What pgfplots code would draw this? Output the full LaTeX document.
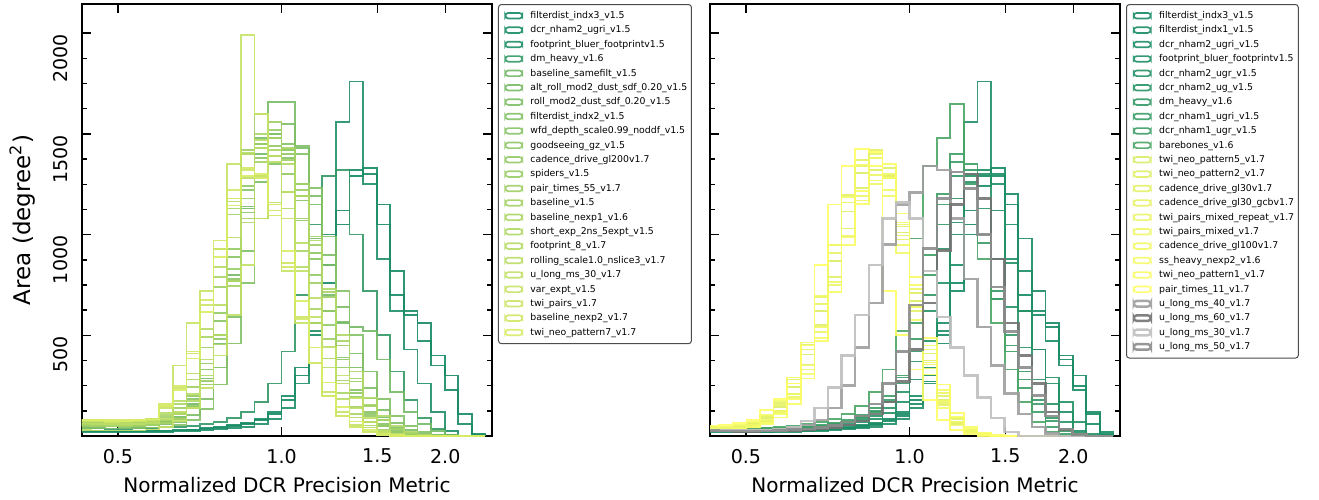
\documentclass[border=0pt]{standalone}
\usepackage{fontspec}
\setmainfont{DejaVu Sans}
\usepackage{pgfplots}
\usepackage{pgfplotstable}
\pgfplotsset{compat=1.18}

\definecolor{cL1}{rgb}{0.08,0.54,0.40}
\definecolor{cL2}{rgb}{0.10,0.55,0.40}
\definecolor{cL3}{rgb}{0.12,0.56,0.40}
\definecolor{cL4}{rgb}{0.20,0.60,0.40}
\definecolor{cL5}{rgb}{0.45,0.725,0.40}
\definecolor{cL6}{rgb}{0.472,0.736,0.40}
\definecolor{cL7}{rgb}{0.494,0.747,0.40}
\definecolor{cL8}{rgb}{0.516,0.758,0.40}
\definecolor{cL9}{rgb}{0.538,0.769,0.40}
\definecolor{cL10}{rgb}{0.56,0.78,0.40}
\definecolor{cL11}{rgb}{0.582,0.791,0.40}
\definecolor{cL12}{rgb}{0.604,0.802,0.40}
\definecolor{cL13}{rgb}{0.626,0.813,0.40}
\definecolor{cL14}{rgb}{0.648,0.824,0.40}
\definecolor{cL15}{rgb}{0.67,0.835,0.40}
\definecolor{cL16}{rgb}{0.692,0.846,0.40}
\definecolor{cL17}{rgb}{0.714,0.857,0.40}
\definecolor{cL18}{rgb}{0.736,0.868,0.40}
\definecolor{cL19}{rgb}{0.758,0.879,0.40}
\definecolor{cL20}{rgb}{0.78,0.89,0.40}
\definecolor{cL21}{rgb}{0.80,0.90,0.40}
\definecolor{cL22}{rgb}{0.82,0.91,0.40}
\definecolor{cL23}{rgb}{0.85,0.925,0.40}

\definecolor{cR1}{rgb}{0.08,0.54,0.40}
\definecolor{cR2}{rgb}{0.10,0.55,0.40}
\definecolor{cR3}{rgb}{0.11,0.555,0.40}
\definecolor{cR4}{rgb}{0.12,0.56,0.40}
\definecolor{cR5}{rgb}{0.14,0.57,0.40}
\definecolor{cR6}{rgb}{0.16,0.58,0.40}
\definecolor{cR7}{rgb}{0.20,0.60,0.40}
\definecolor{cR8}{rgb}{0.22,0.61,0.40}
\definecolor{cR9}{rgb}{0.24,0.62,0.40}
\definecolor{cR10}{rgb}{0.30,0.65,0.40}
\definecolor{cR11}{rgb}{0.86,0.93,0.40}
\definecolor{cR12}{rgb}{0.875,0.9375,0.40}
\definecolor{cR13}{rgb}{0.89,0.945,0.40}
\definecolor{cR14}{rgb}{0.905,0.9525,0.40}
\definecolor{cR15}{rgb}{0.92,0.96,0.40}
\definecolor{cR16}{rgb}{0.935,0.9675,0.40}
\definecolor{cR17}{rgb}{0.95,0.975,0.40}
\definecolor{cR18}{rgb}{0.965,0.9825,0.40}
\definecolor{cR19}{rgb}{0.98,0.99,0.40}
\definecolor{cR20}{rgb}{1.0,1.0,0.40}
\definecolor{cR21}{gray}{0.62}
\definecolor{cR22}{gray}{0.45}
\definecolor{cR23}{gray}{0.75}
\definecolor{cR24}{gray}{0.55}

% histogram bin heights, one row per run (bin left edges in log10 of the metric)
\pgfplotstableread{
name c0 c1 c2 c3 c4 c5 c6 c7 c8 c9 c10 c11 c12 c13 c14 c15 c16 c17 c18 c19 c20 c21 c22 c23 c24 c25 c26 c27 c28 c29 c30
x -0.375 -0.350 -0.325 -0.300 -0.275 -0.250 -0.225 -0.200 -0.175 -0.150 -0.125 -0.100 -0.075 -0.050 -0.025 0.000 0.025 0.050 0.075 0.100 0.125 0.150 0.175 0.200 0.225 0.250 0.275 0.300 0.325 0.350 0.375
a1 25 24 22 22 22 24 25 28 30 35 40 50 60 80 110 180 300 500 760 1050 1290 1330 1150 700 600 560 400 300 110 10 0
a2 28 26 25 24 25 26 28 30 33 38 45 55 65 85 120 200 340 560 850 1120 1320 1300 1050 820 620 470 350 230 60 5 0
a3 20 20 18 18 18 20 20 22 25 28 32 38 45 60 85 140 260 520 1000 1560 1760 1250 880 620 430 260 120 25 0 0 0
a4 40 38 36 36 38 40 42 45 50 58 70 90 120 170 260 420 700 1050 1290 1320 1000 720 500 320 180 90 35 8 0 0 0
a5 55 52 50 50 52 55 70 95 160 285 500 800 1130 1400 1500 1420 1250 980 700 560 540 520 380 220 120 60 25 8 0 0 0
a6 60 58 55 55 57 60 72 90 145 255 460 770 1140 1480 1660 1660 1430 1150 850 565 340 186 92 41 18 7 3 0 0 0 0
a7 50 48 47 48 50 52 58 70 105 185 340 590 920 1260 1500 1550 1440 1190 900 640 410 240 130 65 30 12 4 0 0 0 0
a8 40 38 37 38 40 42 44 55 80 135 255 460 760 1080 1350 1450 1400 1230 990 720 500 320 185 100 50 20 8 2 0 0 0
a9 65 62 60 60 62 65 80 110 185 330 570 890 1220 1450 1500 1380 1170 880 620 390 230 120 60 25 10 3 0 0 0 0 0
a10 55 55 52 52 55 58 70 92 150 270 480 780 1110 1380 1480 1400 1190 910 620 380 215 110 50 20 8 2 0 0 0 0 0
a11 60 58 57 57 60 62 80 115 200 360 610 930 1240 1430 1440 1300 1070 800 550 340 195 100 48 20 8 2 0 0 0 0 0
a12 50 48 47 47 50 52 62 85 145 275 500 830 1180 1450 1520 1420 1220 950 690 450 270 150 78 35 14 5 0 0 0 0 0
a13 70 68 65 65 68 70 95 140 245 440 740 1100 1420 1600 1560 1370 1080 760 480 275 145 70 30 12 4 0 0 0 0 0 0
a14 52 50 50 50 52 55 66 85 140 255 455 745 1080 1360 1480 1430 1250 990 715 470 285 155 78 35 13 4 0 0 0 0 0
a15 70 68 66 66 68 72 105 160 280 490 790 1130 1400 1500 1420 1210 920 630 385 215 110 52 20 8 2 0 0 0 0 0 0
a16 60 58 56 56 58 62 80 110 175 300 500 770 1060 1290 1390 1350 1190 970 730 500 320 190 100 50 20 8 3 0 0 0 0
a17 75 72 70 70 72 76 115 175 310 530 840 1165 1405 1470 1360 1130 840 560 340 185 92 42 16 6 0 0 0 0 0 0 0
a18 62 60 58 58 60 64 85 120 210 380 650 985 1280 1430 1390 1210 960 685 445 260 140 68 28 10 3 0 0 0 0 0 0
a19 30 28 27 27 28 32 45 75 140 240 400 600 850 1080 1160 1080 820 590 440 300 190 90 20 0 0 0 0 0 0 0 0
a20 75 72 70 72 75 85 140 350 560 720 930 1350 1990 1600 1150 820 560 360 220 120 55 22 8 0 0 0 0 0 0 0 0
a21 78 75 72 72 75 80 150 240 410 650 930 1180 1320 1290 1120 860 590 365 200 100 45 18 6 0 0 0 0 0 0 0 0
a22 82 80 78 78 80 85 160 250 420 675 970 1220 1330 1280 1095 840 580 360 200 100 42 17 6 0 0 0 0 0 0 0 0
a23 80 78 76 76 78 82 150 230 385 615 890 1145 1290 1300 1150 920 670 440 265 145 72 30 12 4 0 0 0 0 0 0 0
}\Lraw
\pgfplotstabletranspose[colnames from=name]\Ltab{\Lraw}

\pgfplotstableread{
name c0 c1 c2 c3 c4 c5 c6 c7 c8 c9 c10 c11 c12 c13 c14 c15 c16 c17 c18 c19 c20 c21 c22 c23 c24 c25 c26 c27 c28 c29 c30
x -0.375 -0.350 -0.325 -0.300 -0.275 -0.250 -0.225 -0.200 -0.175 -0.150 -0.125 -0.100 -0.075 -0.050 -0.025 0.000 0.025 0.050 0.075 0.100 0.125 0.150 0.175 0.200 0.225 0.250 0.275 0.300 0.325 0.350 0.375
b1 25 24 22 22 22 24 25 28 30 35 40 50 60 80 110 180 300 500 760 1050 1290 1330 1150 700 600 560 400 300 110 10 0
b2 22 22 20 20 20 22 24 26 28 32 38 45 55 72 100 160 270 460 720 1000 1240 1290 1200 980 720 540 380 250 120 20 0
b3 28 26 25 24 25 26 28 30 33 38 45 55 65 85 120 200 340 560 850 1120 1320 1300 1050 820 620 470 350 230 60 5 0
b4 20 20 18 18 18 20 20 22 25 28 32 38 45 60 85 140 260 520 1000 1560 1760 1250 880 620 430 260 120 25 0 0 0
b5 30 28 27 27 28 30 32 35 40 46 55 68 85 115 170 280 470 760 1060 1290 1300 1120 860 620 430 290 170 70 10 0 0
b6 32 30 29 29 30 32 35 38 44 52 62 78 100 140 220 370 620 930 1180 1260 1130 880 640 440 280 160 70 15 0 0 0
b7 40 38 36 36 38 40 42 45 50 58 70 90 120 170 260 420 700 1050 1290 1320 1000 720 500 320 180 90 35 8 0 0 0
b8 35 33 32 32 33 36 40 45 52 62 76 95 125 180 290 480 800 1150 1360 1250 960 680 450 280 160 75 25 5 0 0 0
b9 36 34 33 33 34 37 42 47 55 66 82 105 140 200 300 560 900 1200 1400 1350 1000 680 420 240 120 45 10 0 0 0 0
b10 45 42 40 40 42 45 50 58 70 85 110 150 220 330 520 980 1340 1480 1650 1300 880 560 330 170 70 20 3 0 0 0 0
b11 35 38 45 60 90 145 245 405 620 870 1115 1305 1380 1290 1010 670 375 180 72 25 8 2 0 0 0 0 0 0 0 0 0
b12 30 33 38 50 75 125 210 355 550 790 1030 1230 1320 1330 1040 710 410 200 85 30 9 3 0 0 0 0 0 0 0 0 0
b13 38 42 50 65 100 165 280 455 690 950 1195 1370 1420 1280 975 620 335 155 60 18 5 0 0 0 0 0 0 0 0 0 0
b14 36 40 48 62 95 155 260 430 655 910 1160 1340 1400 1290 995 645 355 165 66 20 6 0 0 0 0 0 0 0 0 0 0
b15 28 30 36 48 70 115 195 330 515 750 990 1190 1295 1300 1050 730 430 215 90 32 10 3 0 0 0 0 0 0 0 0 0
b16 32 35 42 55 78 125 210 350 540 765 995 1170 1250 1190 950 640 365 175 72 25 7 2 0 0 0 0 0 0 0 0 0
b17 40 45 55 70 105 175 290 465 695 950 1185 1345 1380 1220 910 575 305 138 52 15 4 0 0 0 0 0 0 0 0 0 0
b18 27 29 34 45 65 108 182 308 488 712 950 1152 1268 1280 1060 750 450 228 96 35 10 3 0 0 0 0 0 0 0 0 0
b19 30 31 35 42 58 92 160 285 472 718 985 1215 1340 1350 1105 790 485 255 115 44 14 4 0 0 0 0 0 0 0 0 0
b20 50 55 65 80 130 185 260 450 850 1150 1340 1425 1410 720 500 330 180 80 30 8 0 0 0 0 0 0 0 0 0 0 0
b21 30 28 27 27 28 30 42 55 80 140 250 440 660 950 1150 1210 1340 1320 1080 780 540 350 210 110 45 12 0 0 0 0 0
b22 25 24 23 23 24 25 28 31 35 42 55 75 110 170 270 430 660 920 1150 1300 1180 880 560 400 260 120 30 0 0 0 0
b23 30 28 27 27 28 32 45 75 140 240 400 600 850 1080 1160 1080 820 590 440 300 190 90 20 0 0 0 0 0 0 0 0
b24 28 26 25 25 26 28 32 36 42 52 70 100 160 260 420 650 930 1180 1310 1230 1000 740 520 340 200 100 35 8 0 0 0
}\Rraw
\pgfplotstabletranspose[colnames from=name]\Rtab{\Rraw}

\pgfplotsset{
  dcr/.style={
    scale only axis, width=205pt, height=216pt, anchor=south west,
    xmin=-0.367, xmax=0.387, ymin=0, ymax=2145,
    xtick={-0.30103,0,0.176091,0.30103}, xticklabels={0.5,1.0,1.5,2.0},
    ytick={500,1000,1500,2000},
    minor ytick={125,250,375,625,750,875,1125,1250,1375,1625,1750,1875},
    tick align=inside, major tick length=4.5pt, minor tick length=2.3pt,
    every tick/.style={black, line width=0.75pt},
    axis line style={line width=1pt},
    ticklabel style={font=\fontsize{9.5}{11}\selectfont},
    /pgf/number format/assume math mode=true,
    /pgf/number format/1000 sep={},
    xticklabel shift=3pt,
    yticklabel style={yshift=3pt, rotate=90, anchor=south east},
    yticklabel shift=3.5pt,
    xlabel={Normalized DCR Precision Metric},
    xlabel style={font=\fontsize{10}{12}\selectfont},
    legend cell align=left,
    legend image code/.code={\path (-1.5pt,0pt) (11.5pt,0pt); \draw[##1] (0pt,-1.4pt) rectangle (8.5pt,1.4pt);},
    legend style={at={(rel axis cs:1,1)}, anchor=north west, xshift=3pt,
      draw=black!70, line width=0.5pt, rounded corners=1.5pt,
      font=\fontsize{4.67}{5.5}\selectfont, row sep=0pt,
      inner xsep=1.5pt, inner ysep=2pt,
      nodes={inner sep=0.6pt, text height=4.4pt, text depth=1.6pt}},
  },
  h/.style={const plot, no marks, line width=0.85pt, draw opacity=0.9, color=#1},
  hg/.style={const plot, no marks, line width=1.25pt, draw opacity=0.9, color=#1},
}

\begin{document}
\begin{tikzpicture}
\useasboundingbox (0,0) rectangle (659.5pt,249.5pt);
\begin{axis}[dcr, at={(41pt,31.5pt)},
  ylabel={Area (degree\textsuperscript{2})},
  ylabel style={font=\fontsize{11.5}{13}\selectfont},
  ylabel shift=2.5pt,
  legend entries={filterdist\_indx3\_v1.5, dcr\_nham2\_ugri\_v1.5, footprint\_bluer\_footprintv1.5, dm\_heavy\_v1.6, baseline\_samefilt\_v1.5, alt\_roll\_mod2\_dust\_sdf\_0.20\_v1.5, roll\_mod2\_dust\_sdf\_0.20\_v1.5, filterdist\_indx2\_v1.5, wfd\_depth\_scale0.99\_noddf\_v1.5, goodseeing\_gz\_v1.5, cadence\_drive\_gl200v1.7, spiders\_v1.5, pair\_times\_55\_v1.7, baseline\_v1.5, baseline\_nexp1\_v1.6, short\_exp\_2ns\_5expt\_v1.5, footprint\_8\_v1.7, rolling\_scale1.0\_nslice3\_v1.7, u\_long\_ms\_30\_v1.7, var\_expt\_v1.5, twi\_pairs\_v1.7, baseline\_nexp2\_v1.7, twi\_neo\_pattern7\_v1.7},
]
\addplot[h=cL1] table[x=x,y=a1]{\Ltab};
\addplot[h=cL2] table[x=x,y=a2]{\Ltab};
\addplot[h=cL3] table[x=x,y=a3]{\Ltab};
\addplot[h=cL4] table[x=x,y=a4]{\Ltab};
\addplot[h=cL5] table[x=x,y=a5]{\Ltab};
\addplot[h=cL6] table[x=x,y=a6]{\Ltab};
\addplot[h=cL7] table[x=x,y=a7]{\Ltab};
\addplot[h=cL8] table[x=x,y=a8]{\Ltab};
\addplot[h=cL9] table[x=x,y=a9]{\Ltab};
\addplot[h=cL10] table[x=x,y=a10]{\Ltab};
\addplot[h=cL11] table[x=x,y=a11]{\Ltab};
\addplot[h=cL12] table[x=x,y=a12]{\Ltab};
\addplot[h=cL13] table[x=x,y=a13]{\Ltab};
\addplot[h=cL14] table[x=x,y=a14]{\Ltab};
\addplot[h=cL15] table[x=x,y=a15]{\Ltab};
\addplot[h=cL16] table[x=x,y=a16]{\Ltab};
\addplot[h=cL17] table[x=x,y=a17]{\Ltab};
\addplot[h=cL18] table[x=x,y=a18]{\Ltab};
\addplot[h=cL19] table[x=x,y=a19]{\Ltab};
\addplot[h=cL20] table[x=x,y=a20]{\Ltab};
\addplot[h=cL21] table[x=x,y=a21]{\Ltab};
\addplot[h=cL22] table[x=x,y=a22]{\Ltab};
\addplot[h=cL23] table[x=x,y=a23]{\Ltab};
\end{axis}

\begin{axis}[dcr, at={(355pt,31.5pt)},
  yticklabels={},
  legend entries={filterdist\_indx3\_v1.5, filterdist\_indx1\_v1.5, dcr\_nham2\_ugri\_v1.5, footprint\_bluer\_footprintv1.5, dcr\_nham2\_ugr\_v1.5, dcr\_nham2\_ug\_v1.5, dm\_heavy\_v1.6, dcr\_nham1\_ugri\_v1.5, dcr\_nham1\_ugr\_v1.5, barebones\_v1.6, twi\_neo\_pattern5\_v1.7, twi\_neo\_pattern2\_v1.7, cadence\_drive\_gl30v1.7, cadence\_drive\_gl30\_gcbv1.7, twi\_pairs\_mixed\_repeat\_v1.7, twi\_pairs\_mixed\_v1.7, cadence\_drive\_gl100v1.7, ss\_heavy\_nexp2\_v1.6, twi\_neo\_pattern1\_v1.7, pair\_times\_11\_v1.7, u\_long\_ms\_40\_v1.7, u\_long\_ms\_60\_v1.7, u\_long\_ms\_30\_v1.7, u\_long\_ms\_50\_v1.7},
]
\addplot[h=cR1] table[x=x,y=b1]{\Rtab};
\addplot[h=cR2] table[x=x,y=b2]{\Rtab};
\addplot[h=cR3] table[x=x,y=b3]{\Rtab};
\addplot[h=cR4] table[x=x,y=b4]{\Rtab};
\addplot[h=cR5] table[x=x,y=b5]{\Rtab};
\addplot[h=cR6] table[x=x,y=b6]{\Rtab};
\addplot[h=cR7] table[x=x,y=b7]{\Rtab};
\addplot[h=cR8] table[x=x,y=b8]{\Rtab};
\addplot[h=cR9] table[x=x,y=b9]{\Rtab};
\addplot[h=cR10] table[x=x,y=b10]{\Rtab};
\addplot[h=cR11] table[x=x,y=b11]{\Rtab};
\addplot[h=cR12] table[x=x,y=b12]{\Rtab};
\addplot[h=cR13] table[x=x,y=b13]{\Rtab};
\addplot[h=cR14] table[x=x,y=b14]{\Rtab};
\addplot[h=cR15] table[x=x,y=b15]{\Rtab};
\addplot[h=cR16] table[x=x,y=b16]{\Rtab};
\addplot[h=cR17] table[x=x,y=b17]{\Rtab};
\addplot[h=cR18] table[x=x,y=b18]{\Rtab};
\addplot[h=cR19] table[x=x,y=b19]{\Rtab};
\addplot[h=cR20] table[x=x,y=b20]{\Rtab};
\addplot[hg=cR21] table[x=x,y=b21]{\Rtab};
\addplot[hg=cR22] table[x=x,y=b22]{\Rtab};
\addplot[hg=cR23] table[x=x,y=b23]{\Rtab};
\addplot[hg=cR24] table[x=x,y=b24]{\Rtab};
\end{axis}
\end{tikzpicture}
\end{document}
